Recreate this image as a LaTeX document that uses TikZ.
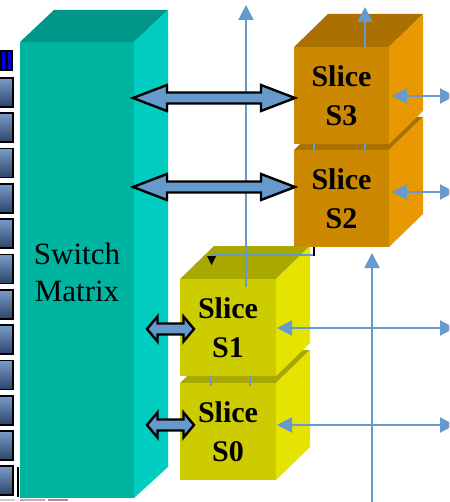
\documentclass[tikz,border=0pt]{standalone}
\usepackage{fontspec}
\setmainfont{Liberation Serif}
\usetikzlibrary{arrows.meta,calc}
\definecolor{tealtop}{HTML}{009688}
\definecolor{tealfront}{HTML}{00B4A2}
\definecolor{tealside}{HTML}{00CCC0}
\definecolor{ortop}{HTML}{AA7000}
\definecolor{orfront}{HTML}{CC8800}
\definecolor{orside}{HTML}{E89800}
\definecolor{yetop}{HTML}{A8A800}
\definecolor{yefront}{HTML}{CCCC00}
\definecolor{yeside}{HTML}{E4E400}
\definecolor{steel}{HTML}{6699CC}
\definecolor{sqtop}{HTML}{7A9CCC}
\definecolor{sqbot}{HTML}{2C4468}
\tikzset{
  thinline/.style={draw=steel, line width=2pt},
  thinarrow/.style={thinline, -{Triangle[width=15pt,length=15pt]}},
  thindbl/.style={thinline, {Triangle[width=15pt,length=15pt]}-{Triangle[width=15pt,length=15pt]}},
  blockarr/.style={fill=steel, draw=black, line width=2.4pt, line join=miter},
  slicetext/.style={font=\bfseries\fontsize{30}{39}\selectfont, align=center, inner sep=0pt},
  mattext/.style={font=\fontsize{31}{37}\selectfont, align=center, inner sep=0pt},
  sq/.style={draw=black, line width=1.8pt, top color=sqtop, bottom color=sqbot}
}
% cube: x, y (front top-left), w, h, front, top, side
\newcommand\mycube[7]{%
  \fill[#6] (#1,#2) -- ++(34,-33) -- ++(#3,0) -- ++(-34,33) -- cycle;
  \fill[#7] ({#1+#3},#2) -- ++(34,-33) -- ++(0,#4) -- ++(-34,33) -- cycle;
  \fill[#5] (#1,#2) rectangle ++(#3,#4);
}
% double block arrow between named coordinates: left, right, head length, head half width
\newcommand\blockarrow[4]{%
  \draw[blockarr] (#1) -- ($(#1)+(#3,-#4)$) -- ($(#1)+(#3,-5.5)$) -- ($(#2)+(-#3,-5.5)$)
    -- ($(#2)+(-#3,-#4)$) -- (#2) -- ($(#2)+(-#3,#4)$) -- ($(#2)+(-#3,5.5)$)
    -- ($(#1)+(#3,5.5)$) -- ($(#1)+(#3,#4)$) -- cycle;
}
\begin{document}
\begin{tikzpicture}[x=1pt,y=-1pt]
\useasboundingbox (0,0) rectangle (449,502);
\clip (0,0) rectangle (449,502);
\fill[white] (0,0) rectangle (449,502);

% left column of squares
\fill[black] (-1,50) rectangle (13,71);
\fill[blue!90!black] (1.5,52) rectangle (4.5,69);
\fill[blue!90!black] (7.5,52) rectangle (10.5,69);
\foreach \i in {0,...,11} {
  \draw[sq] (-3,{78+35.3*\i}) rectangle ++(16,29);
}
\draw[black, line width=1.8pt] (18,467) -- (18,497);
\draw[gray!40, line width=1.5pt] (0,500) -- (15,500);
\draw[gray!60, line width=1.5pt] (20,500) -- (45,500);
\draw[gray!80, line width=1.5pt] (48,500) -- (68,500);

% switch matrix
\fill[tealtop] (20,42) -- (54,10) -- (168,10) -- (134,42) -- cycle;
\fill[tealside] (134,42) -- (168,10) -- (168,467) -- (134,498) -- cycle;
\fill[tealfront] (20,42) rectangle (134,498);
\node[mattext] (sm) at (77,272) {Switch\\Matrix};

% slices S0, S1
\mycube{180}{383}{96}{97}{yefront}{yetop}{yeside}
\draw[thinline] (211,352) -- (211,386);
\draw[thinline] (250,352) -- (250,386);
\mycube{180}{279}{96}{97}{yefront}{yetop}{yeside}
\node[slicetext] (s0) at (228,432) {Slice\\S0};
\node[slicetext] (s1) at (228,328) {Slice\\S1};

% slices S2, S3
\mycube{294}{150}{95}{97}{orfront}{ortop}{orside}
\draw[thinline] (314,118) -- (314,152);
\draw[thinline] (365,118) -- (365,152);
\mycube{294}{47}{95}{97}{orfront}{ortop}{orside}
\node[slicetext] (s2) at (341.5,199) {Slice\\S2};
\node[slicetext] (s3) at (341.5,96) {Slice\\S3};

% thin lines and arrows
\coordinate (a1) at (246,287); \coordinate (a2) at (246,5);
\draw[thinarrow] (a1) -- (a2);
\coordinate (h1) at (212,255); \coordinate (h2) at (313,255);
\draw[thinline] (h1) -- (h2);
\fill[black] (207,256) -- (216,256) -- (211.5,265) -- cycle;
\draw[black, line width=1.5pt] (314,247) -- (314,256);
\coordinate (c1) at (365,47); \coordinate (c2) at (365,7);
\draw[thinarrow] (c1) -- (c2);
\coordinate (d1) at (372,502); \coordinate (d2) at (372,253);
\draw[thinarrow] (d1) -- (d2);
\coordinate (r3a) at (392,96); \coordinate (r3b) at (455,96);
\coordinate (r2a) at (392,192); \coordinate (r2b) at (455,192);
\coordinate (r1a) at (277,328); \coordinate (r1b) at (455,328);
\coordinate (r0a) at (277,425); \coordinate (r0b) at (455,425);
\draw[thindbl] (r3a) -- (r3b);
\draw[thindbl] (r2a) -- (r2b);
\draw[thindbl] (r1a) -- (r1b);
\draw[thindbl] (r0a) -- (r0b);

% block arrows
\coordinate (m3L) at (133,98); \coordinate (m3R) at (295,98);
\coordinate (m2L) at (133,187); \coordinate (m2R) at (295,187);
\coordinate (m1L) at (147,329); \coordinate (m1R) at (194,329);
\coordinate (m0L) at (147,425); \coordinate (m0R) at (194,425);
\blockarrow{m3L}{m3R}{34}{13}
\blockarrow{m2L}{m2R}{34}{13}
\blockarrow{m1L}{m1R}{10.5}{12.5}
\blockarrow{m0L}{m0R}{10.5}{12.5}
\end{tikzpicture}
\end{document}
